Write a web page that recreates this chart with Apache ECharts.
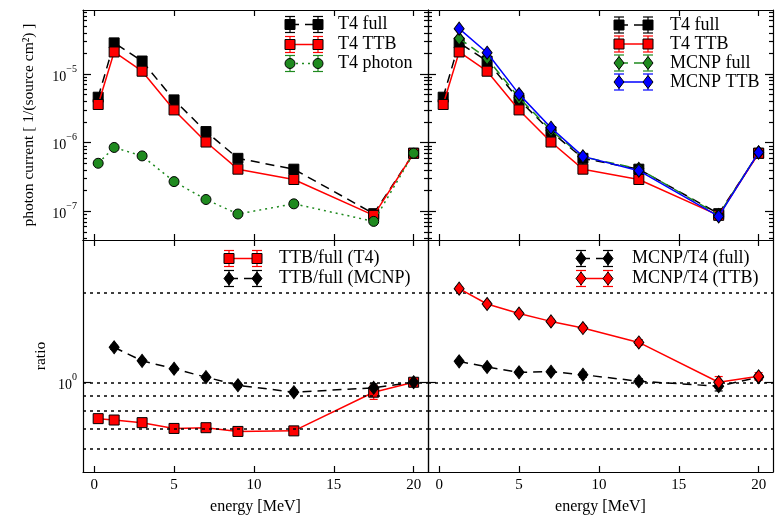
<!DOCTYPE html>
<html>
<head>
<meta charset="utf-8">
<script src="https://cdn.jsdelivr.net/npm/echarts@6.0.0/dist/echarts.min.js"></script>
<style>
  html, body { margin: 0; padding: 0; background: #fff; }
  #main { width: 779px; height: 516px; }
</style>
</head>
<body>
<div id="main"></div>
<script>
// energy bins [MeV]
var energy = [0.25, 1.25, 3, 5, 7, 9, 12.5, 17.5, 20];
var energyMcnp = [1.25, 3, 5, 7, 9, 12.5, 17.5, 20];

// photon current [1/(source cm^2)]
var t4Full   = [4.6e-6, 2.85e-5, 1.55e-5, 4.2e-6, 1.45e-6, 5.9e-7, 4.1e-7, 9.2e-8, 7.0e-7];
var t4Ttb    = [3.6e-6, 2.1e-5, 1.1e-5, 3.0e-6, 1.02e-6, 4.1e-7, 2.9e-7, 8.7e-8, 7.0e-7];
var t4Photon = [5.0e-7, 8.5e-7, 6.4e-7, 2.7e-7, 1.48e-7, 9.1e-8, 1.28e-7, 7.1e-8, 7.0e-7];
var mcnpFull = [3.3e-5, 1.7e-5, 4.5e-6, 1.52e-6, 6.2e-7, 4.15e-7, 8.8e-8, 7.2e-7];
var mcnpTtb  = [4.6e-5, 2.05e-5, 5.1e-6, 1.65e-6, 6.3e-7, 3.9e-7, 8.4e-8, 7.2e-7];

// ratios and their errors
var ttbFullT4      = [0.755, 0.747, 0.732, 0.70, 0.704, 0.684, 0.687, 0.926, 1.0];
var ttbFullT4Err   = [0.01, 0.01, 0.01, 0.01, 0.01, 0.01, 0.01, 0.05, 0.02];
var ttbFullMcnp    = [1.31, 1.18, 1.11, 1.04, 0.977, 0.926, 0.958, 1.0];
var ttbFullMcnpErr = [0.02, 0.015, 0.015, 0.015, 0.015, 0.015, 0.03, 0.02];
var mcnpT4Full     = [1.175, 1.125, 1.08, 1.085, 1.06, 1.008, 0.97, 1.04];
var mcnpT4FullErr  = [0.015, 0.015, 0.015, 0.015, 0.02, 0.02, 0.035, 0.02];
var mcnpT4Ttb      = [2.06, 1.83, 1.70, 1.60, 1.52, 1.36, 1.0, 1.047];
var mcnpT4TtbErr   = [0.03, 0.025, 0.025, 0.025, 0.025, 0.03, 0.045, 0.03];

// axes
var xTicks = [0, 5, 10, 15, 20];
var fluxMajor = [1e-7, 1e-6, 1e-5];
var fluxMinor = [4e-8, 5e-8, 6e-8, 7e-8, 8e-8, 9e-8,
  2e-7, 3e-7, 4e-7, 5e-7, 6e-7, 7e-7, 8e-7, 9e-7,
  2e-6, 3e-6, 4e-6, 5e-6, 6e-6, 7e-6, 8e-6, 9e-6,
  2e-5, 3e-5, 4e-5, 5e-5, 6e-5, 7e-5, 8e-5];
var ratioMajor = [1];
var ratioGuides = [0.6, 0.7, 0.8, 0.9, 1, 2];

var FONT = 'Liberation Serif';
var RED = '#ff0000', GREEN = '#1f8a1f', BLUE = '#0000ff', BLACK = '#000000';
var DASH = [9, 6], DOT = [2, 4];

function pairs(xs, ys) {
  return xs.map(function (x, i) { return [x, ys[i]]; });
}
function errPairs(xs, ys, es) {
  return xs.map(function (x, i) { return [x, ys[i] - es[i], ys[i] + es[i]]; });
}
function supLabel(v) {
  var e = Math.round(Math.log10(v));
  return '{b|10}{s|' + String(e).replace('-', '\u2212') + '}';
}

var grids = [
  { left: 83, top: 10, width: 345, height: 230 },
  { left: 428, top: 10, width: 345, height: 230 },
  { left: 83, top: 240, width: 345, height: 232 },
  { left: 428, top: 240, width: 345, height: 232 }
];

var xAxes = [];
grids.forEach(function (g, gi) {
  var withLabels = gi >= 2;
  ['bottom', 'top'].forEach(function (pos) {
    xAxes.push({
      type: 'value', gridIndex: gi, position: pos, min: -0.7, max: 20.9,
      axisLine: { show: true, onZero: false, lineStyle: { color: BLACK, width: 1.2 } },
      axisTick: { show: true, inside: true, length: 6, customValues: xTicks, lineStyle: { color: BLACK, width: 1.2 } },
      axisLabel: {
        show: withLabels && pos === 'bottom', customValues: xTicks, margin: 6,
        fontFamily: FONT, fontSize: 15, color: BLACK
      },
      splitLine: { show: false },
      name: withLabels && pos === 'bottom' ? 'energy [MeV]' : '',
      nameLocation: 'middle', nameGap: 27,
      nameTextStyle: { fontFamily: FONT, fontSize: 16, color: BLACK }
    });
  });
});

var richSup = {
  b: { fontFamily: FONT, fontSize: 14, color: BLACK, lineHeight: 20, verticalAlign: 'bottom' },
  s: { fontFamily: FONT, fontSize: 10, color: BLACK, verticalAlign: 'top' }
};

function logAxis(gi, pos, min, max, ticks, len, showLine, labels, name, nameGap) {
  return {
    type: 'log', logBase: 10, gridIndex: gi, position: pos, min: min, max: max,
    axisLine: { show: showLine, onZero: false, lineStyle: { color: BLACK, width: 1.2 } },
    axisTick: { show: true, inside: true, length: len, customValues: ticks, lineStyle: { color: BLACK, width: 1.2 } },
    axisLabel: labels ? {
      show: true, customValues: labels, margin: 6,
      formatter: supLabel, rich: richSup
    } : { show: false },
    splitLine: { show: false },
    name: name || '', nameLocation: 'middle', nameGap: nameGap || 0, nameRotate: 90,
    nameTextStyle: { fontFamily: FONT, fontSize: 15.5, color: BLACK }
  };
}

var FMIN = 3.8e-8, FMAX = 8.6e-5, RMIN = 0.5, RMAX = 3;
var yAxes = [
  // top-left: 0..3
  logAxis(0, 'left', FMIN, FMAX, fluxMajor, 8, true, fluxMajor, 'photon current [ 1/(source cm\u00b2) ]', 46),
  logAxis(0, 'left', FMIN, FMAX, fluxMinor, 4, false, null),
  logAxis(0, 'right', FMIN, FMAX, fluxMajor, 8, true, null),
  logAxis(0, 'right', FMIN, FMAX, fluxMinor, 4, false, null),
  // top-right: 4..7
  logAxis(1, 'left', FMIN, FMAX, fluxMajor, 8, true, null),
  logAxis(1, 'left', FMIN, FMAX, fluxMinor, 4, false, null),
  logAxis(1, 'right', FMIN, FMAX, fluxMajor, 8, true, null),
  logAxis(1, 'right', FMIN, FMAX, fluxMinor, 4, false, null),
  // bottom-left: 8, 9
  logAxis(2, 'left', RMIN, RMAX, ratioMajor, 8, true, ratioMajor, 'ratio', 34),
  logAxis(2, 'right', RMIN, RMAX, ratioMajor, 8, true, null),
  // bottom-right: 10, 11
  logAxis(3, 'left', RMIN, RMAX, ratioMajor, 8, true, null),
  logAxis(3, 'right', RMIN, RMAX, ratioMajor, 8, true, null)
];

function lineSeries(name, data, xi, yi, color, fill, dash, symbol, size, z) {
  return {
    name: name, type: 'line', xAxisIndex: xi, yAxisIndex: yi, data: data,
    symbol: symbol, symbolSize: size, showSymbol: true, z: z,
    lineStyle: { color: color, width: 1.5, type: dash },
    itemStyle: { color: fill, borderColor: BLACK, borderWidth: 1 },
    emphasis: { disabled: true }
  };
}

function errorSeries(data, xi, yi, color, z) {
  return {
    type: 'custom', xAxisIndex: xi, yAxisIndex: yi, data: data, z: z, silent: true,
    encode: { x: 0, y: [1, 2] },
    renderItem: function (params, api) {
      var x = api.value(0);
      var p1 = api.coord([x, api.value(1)]);
      var p2 = api.coord([x, api.value(2)]);
      var st = { stroke: color, lineWidth: 1.2 };
      return {
        type: 'group', children: [
          { type: 'line', shape: { x1: p1[0], y1: p1[1], x2: p2[0], y2: p2[1] }, style: st },
          { type: 'line', shape: { x1: p1[0] - 4, y1: p1[1], x2: p1[0] + 4, y2: p1[1] }, style: st },
          { type: 'line', shape: { x1: p2[0] - 4, y1: p2[1], x2: p2[0] + 4, y2: p2[1] }, style: st }
        ]
      };
    }
  };
}

var SQ = 10, DIA = [10, 13], CIR = 10;

var guideSeries = {
  type: 'line', xAxisIndex: 4, yAxisIndex: 8, data: [], z: 1,
  markLine: {
    silent: true, symbol: ['none', 'none'], label: { show: false },
    lineStyle: { color: BLACK, type: [3, 4], width: 1.5 },
    data: ratioGuides.map(function (v) { return { yAxis: v }; })
  }
};
var guideSeries2 = JSON.parse(JSON.stringify(guideSeries));
guideSeries2.xAxisIndex = 6; guideSeries2.yAxisIndex = 10;
guideSeries2.markLine.data = ratioGuides.map(function (v) { return { yAxis: v }; });

var series = [
  // top-left
  lineSeries('T4 full', pairs(energy, t4Full), 0, 0, BLACK, BLACK, DASH, 'rect', SQ, 3),
  lineSeries('T4 TTB', pairs(energy, t4Ttb), 0, 0, RED, RED, 'solid', 'rect', SQ, 4),
  lineSeries('T4 photon', pairs(energy, t4Photon), 0, 0, GREEN, GREEN, DOT, 'circle', CIR, 5),
  // top-right
  lineSeries('T4 full', pairs(energy, t4Full), 2, 4, BLACK, BLACK, DASH, 'rect', SQ, 3),
  lineSeries('T4 TTB', pairs(energy, t4Ttb), 2, 4, RED, RED, 'solid', 'rect', SQ, 4),
  lineSeries('MCNP full', pairs(energyMcnp, mcnpFull), 2, 4, GREEN, GREEN, DASH, 'diamond', DIA, 5),
  lineSeries('MCNP TTB', pairs(energyMcnp, mcnpTtb), 2, 4, BLUE, BLUE, 'solid', 'diamond', DIA, 6),
  // bottom-left
  guideSeries,
  errorSeries(errPairs(energy, ttbFullT4, ttbFullT4Err), 4, 8, RED, 3),
  lineSeries('TTB/full (T4)', pairs(energy, ttbFullT4), 4, 8, RED, RED, 'solid', 'rect', SQ, 4),
  errorSeries(errPairs(energyMcnp, ttbFullMcnp, ttbFullMcnpErr), 4, 8, BLACK, 3),
  lineSeries('TTB/full (MCNP)', pairs(energyMcnp, ttbFullMcnp), 4, 8, BLACK, BLACK, DASH, 'diamond', DIA, 4),
  // bottom-right
  guideSeries2,
  errorSeries(errPairs(energyMcnp, mcnpT4Full, mcnpT4FullErr), 6, 10, BLACK, 3),
  lineSeries('MCNP/T4 (full)', pairs(energyMcnp, mcnpT4Full), 6, 10, BLACK, BLACK, DASH, 'diamond', DIA, 4),
  errorSeries(errPairs(energyMcnp, mcnpT4Ttb, mcnpT4TtbErr), 6, 10, RED, 3),
  lineSeries('MCNP/T4 (TTB)', pairs(energyMcnp, mcnpT4Ttb), 6, 10, RED, RED, 'solid', 'diamond', DIA, 5)
];

// hand-drawn legend glyphs: marker - line - marker with error bars
function marker(shape, cx, cy, fill) {
  var st = { fill: fill, stroke: BLACK, lineWidth: 1 };
  if (shape === 'rect') return { type: 'rect', shape: { x: cx - 5, y: cy - 5, width: 10, height: 10 }, style: st, z: 12 };
  if (shape === 'circle') return { type: 'circle', shape: { cx: cx, cy: cy, r: 5 }, style: st, z: 12 };
  return { type: 'polygon', shape: { points: [[cx, cy - 6.5], [cx + 5, cy], [cx, cy + 6.5], [cx - 5, cy]] }, style: st, z: 12 };
}
function legendEntry(x1, x2, tx, y, label, color, fill, dash, shape) {
  var els = [];
  var eb = { stroke: color, lineWidth: 1.2 };
  [x1, x2].forEach(function (x) {
    els.push({ type: 'line', shape: { x1: x, y1: y - 8, x2: x, y2: y + 8 }, style: eb, z: 10 });
    els.push({ type: 'line', shape: { x1: x - 5, y1: y - 8, x2: x + 5, y2: y - 8 }, style: eb, z: 10 });
    els.push({ type: 'line', shape: { x1: x - 5, y1: y + 8, x2: x + 5, y2: y + 8 }, style: eb, z: 10 });
  });
  els.push({ type: 'line', shape: { x1: x1, y1: y, x2: x2, y2: y },
    style: { stroke: color, lineWidth: 1.5, lineDash: dash === 'solid' ? null : dash }, z: 11 });
  els.push(marker(shape, x1, y, fill));
  els.push(marker(shape, x2, y, fill));
  els.push({ type: 'text', x: tx, y: y, z: 12,
    style: { text: label, fontFamily: FONT, fontSize: 18, fill: BLACK, verticalAlign: 'middle', align: 'left' } });
  return els;
}

var graphic = [].concat(
  legendEntry(290, 318, 338, 24.5, 'T4 full', BLACK, BLACK, DASH, 'rect'),
  legendEntry(290, 318, 338, 44.5, 'T4 TTB', RED, RED, 'solid', 'rect'),
  legendEntry(290, 318, 338, 63.5, 'T4 photon', GREEN, GREEN, DOT, 'circle'),
  legendEntry(619, 648, 670, 25, 'T4 full', BLACK, BLACK, DASH, 'rect'),
  legendEntry(619, 648, 670, 44, 'T4 TTB', RED, RED, 'solid', 'rect'),
  legendEntry(619, 648, 670, 63, 'MCNP full', GREEN, GREEN, DASH, 'diamond'),
  legendEntry(619, 648, 670, 82, 'MCNP TTB', BLUE, BLUE, 'solid', 'diamond'),
  legendEntry(229, 257, 279, 258.5, 'TTB/full (T4)', RED, RED, 'solid', 'rect'),
  legendEntry(229, 257, 279, 278.5, 'TTB/full (MCNP)', BLACK, BLACK, DASH, 'diamond'),
  legendEntry(581, 608, 632, 258.5, 'MCNP/T4 (full)', BLACK, BLACK, DASH, 'diamond'),
  legendEntry(581, 608, 632, 278.5, 'MCNP/T4 (TTB)', RED, RED, 'solid', 'diamond')
);

var myChart = echarts.init(document.getElementById('main'));
var option = {
  animation: false,
  backgroundColor: '#ffffff',
  textStyle: { fontFamily: FONT },
  grid: grids,
  xAxis: xAxes,
  yAxis: yAxes,
  series: series,
  graphic: graphic
};
myChart.setOption(option);
</script>
</body>
</html>
